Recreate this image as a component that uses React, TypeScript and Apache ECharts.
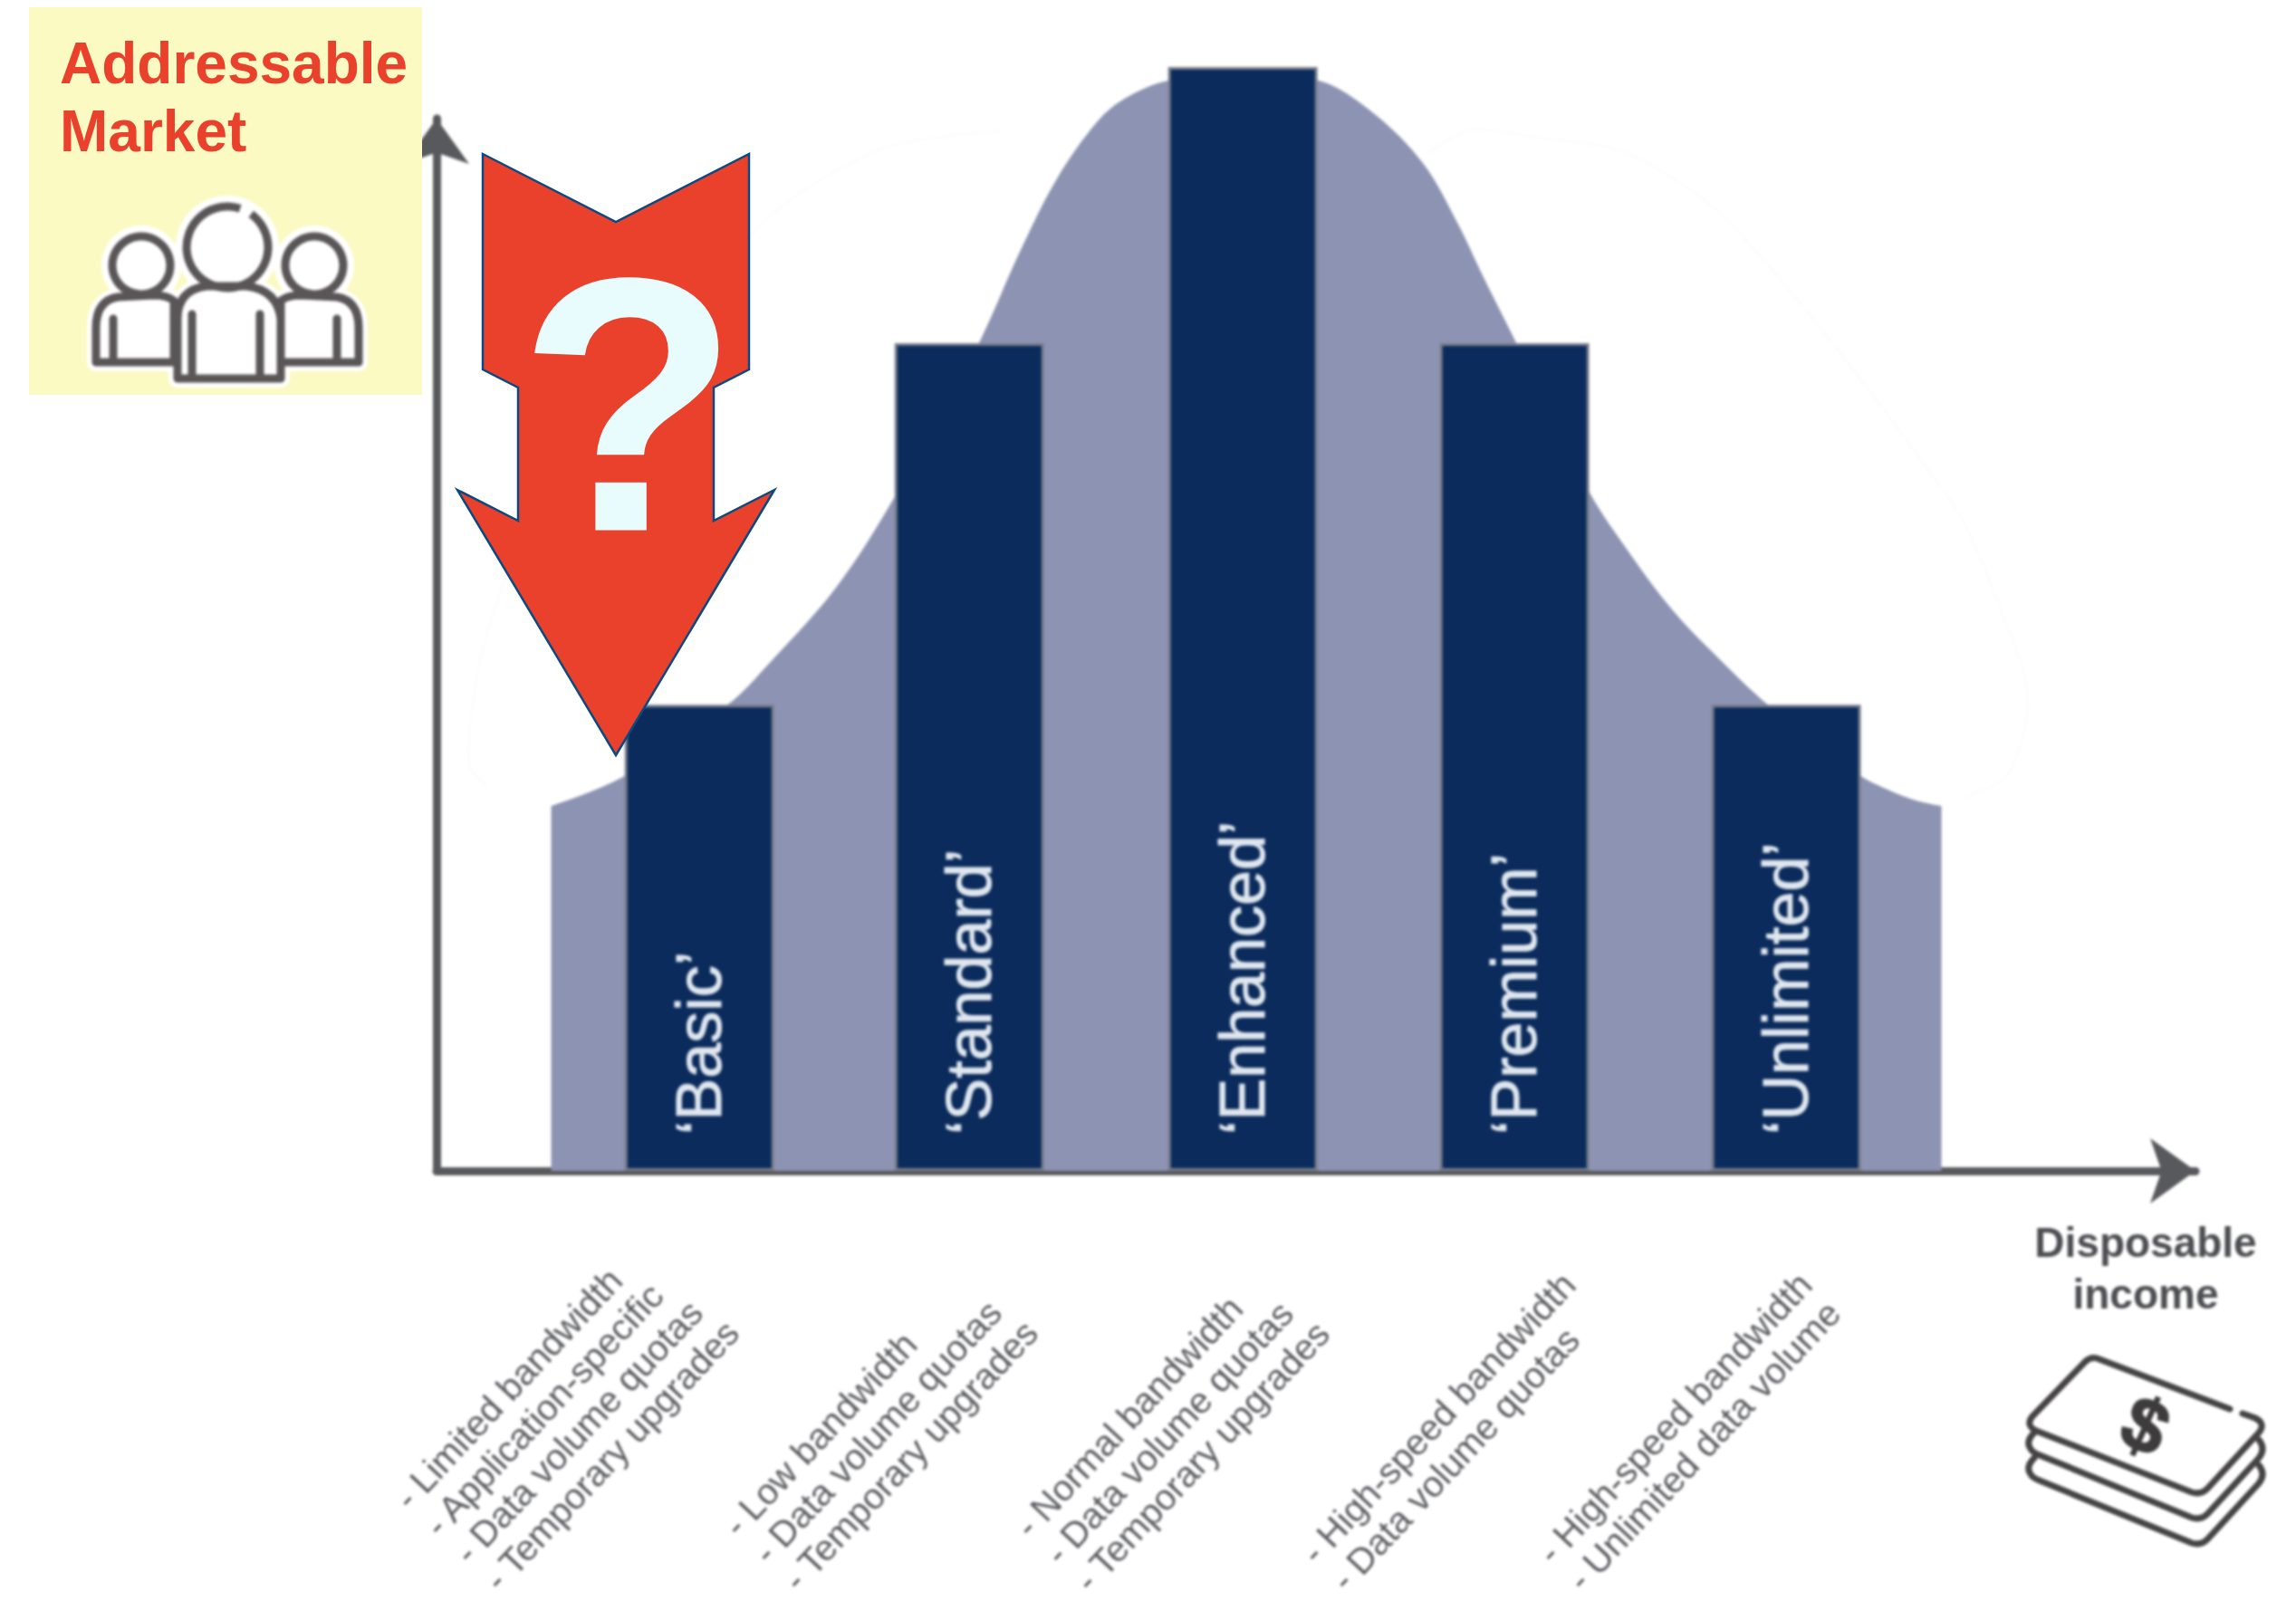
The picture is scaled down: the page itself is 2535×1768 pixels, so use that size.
import React, { useEffect, useRef } from "react";
import * as echarts from "echarts";

const FONT = '"Liberation Sans", Arial, sans-serif';

// ---- data (axis units: share of the market vs. income) ----
const tiers = ["‘Basic’", "‘Standard’", "‘Enhanced’", "‘Premium’", "‘Unlimited’"];
const tierIncome = [14.9, 30.2, 45.7, 61.1, 76.5];
const tierMarket = [44.2, 78.5, 104.7, 78.5, 44.2];

const bellIncome = [6.5, 10.6, 16.5, 19.0, 22.5, 25.4, 28.6, 30.8, 33.1, 35.2, 37.5, 39.1, 41.5, 45.7, 49.8, 52.9, 55.9, 57.9, 59.3, 61.0, 65.2, 67.7, 70.2, 72.8, 75.4, 80.6, 82.2, 83.9, 85.3];
const bellMarket = [34.6, 37.4, 44.2, 48.4, 55.0, 62.3, 72.0, 78.7, 87.3, 94.2, 99.6, 101.8, 103.4, 104.0, 103.5, 100.6, 95.6, 89.8, 84.9, 79.2, 64.8, 58.4, 52.9, 48.4, 44.3, 37.6, 36.2, 35.1, 34.6];

const ghostRightIncome = [56.2, 58.9, 62.4, 67.5, 73.5, 85.8, 88.2, 90.2, 89.0, 86.5];
const ghostRightMarket = [96.5, 98.8, 98.0, 96.5, 89.6, 63.6, 55.2, 44.4, 37.5, 35.4];
const ghostLeftIncome = [31.9, 29.2, 24.7, 18.3, 6.0, 2.7, 1.8, 3.0];
const ghostLeftMarket = [98.6, 98.2, 96.6, 89.6, 63.6, 50.0, 38.8, 36.3];

const basicFeatures = ["- Limited bandwidth", "- Application-specific", "- Data volume quotas", "- Temporary upgrades"];
const standardFeatures = ["- Low bandwidth", "- Data volume quotas", "- Temporary upgrades"];
const enhancedFeatures = ["- Normal bandwidth", "- Data volume quotas", "- Temporary upgrades"];
const premiumFeatures = ["- High-speed bandwidth", "- Data volume quotas"];
const unlimitedFeatures = ["- High-speed bandwidth", "- Unlimited data volume"];

const titleLines = ["Addressable", "Market"];
const incomeLines = ["Disposable", "income"];

// ---- icons ----
echarts.graphic.registerShape(
  "peopleFill",
  echarts.graphic.extendPath(
    "M196 418 V352 Q196 320 228 316 L272 316 Q306 320 310 352 V418 Z M192 400 H106 V362 Q106 332 130 328 L170 326 Q184 326 192 332 Z M310 400 H396 V362 Q396 332 372 328 L332 326 Q318 326 310 332 Z",
    {}
  )
);
echarts.graphic.registerShape(
  "peopleArms",
  echarts.graphic.extendPath("M212 347 V414 M287 347 V414 M125 352 V398 M372 352 V398", {})
);
echarts.graphic.registerShape(
  "moneyTop",
  echarts.graphic.extendPath(
    "M2462 1556 L2318 1501 Q2309 1497 2302 1504 L2244 1564 Q2236 1574 2248 1580 L2420 1648 Q2430 1651 2437 1644 L2494 1582 Q2502 1572 2490 1566 L2476 1561",
    {}
  )
);
echarts.graphic.registerShape(
  "moneyLower",
  echarts.graphic.extendPath(
    "M2246 1582 Q2236 1592 2242 1600 Q2244 1604 2252 1607 L2420 1676 Q2430 1679 2437 1672 L2494 1610 Q2502 1600 2494 1590 M2246 1610 Q2236 1620 2242 1628 Q2244 1632 2252 1635 L2420 1704 Q2430 1707 2437 1700 L2494 1638 Q2502 1628 2494 1618",
    {}
  )
);
echarts.graphic.registerShape(
  "redArrow",
  echarts.graphic.extendPath(
    "M533 170 L680 245 L827 170 L827 408 L788 428 L788 575 L855 541 L680 834 L505 541 L572 575 L572 428 L533 408 Z",
    {}
  )
);

const featureGroups = [
  { lines: basicFeatures, x: 443, y: 1660 },
  { lines: standardFeatures, x: 806, y: 1690 },
  { lines: enhancedFeatures, x: 1128, y: 1691 },
  { lines: premiumFeatures, x: 1444, y: 1720 },
  { lines: unlimitedFeatures, x: 1705, y: 1720 },
];

const zip = (a: number[], b: number[]) => a.map((v, i) => [v, b[i]]);

const featureTexts = featureGroups.flatMap((g) =>
  g.lines.map((line, i) => ({
    type: "text",
    x: g.x + 33 * i,
    y: g.y + 30 * i,
    rotation: (47 * Math.PI) / 180,
    silent: true,
    style: {
      text: line,
      font: `40px ${FONT}`,
      fill: "#5c5d61",
      textAlign: "left",
      textVerticalAlign: "middle",
    },
  }))
);

const axisLine = {
  show: true,
  symbol: ["none", "arrow"],
  symbolSize: [54, 50],
  lineStyle: { color: "#58595c", width: 9 },
};

const mainOption: any = {
  animation: false,
  backgroundColor: "#ffffff",
  grid: { left: 482, top: 131, right: 111, bottom: 475 },
  xAxis: {
    type: "value",
    min: 0,
    max: 99.7,
    axisLine,
    axisTick: { show: false },
    axisLabel: { show: false },
    splitLine: { show: false },
  },
  yAxis: {
    type: "value",
    min: 0,
    max: 99.8,
    axisLine,
    axisTick: { show: false },
    axisLabel: { show: false },
    splitLine: { show: false },
  },
  series: [
    {
      type: "line",
      name: "ghostLeft",
      data: zip(ghostLeftIncome, ghostLeftMarket),
      showSymbol: false,
      clip: false,
      smooth: 0.3,
      lineStyle: { color: "#f7f7f7", width: 2, type: "dotted" },
      z: 1,
    },
    {
      type: "line",
      name: "ghostRight",
      data: zip(ghostRightIncome, ghostRightMarket),
      showSymbol: false,
      clip: false,
      smooth: 0.3,
      lineStyle: { color: "#f7f7f7", width: 2, type: "dotted" },
      z: 1,
    },
    {
      type: "line",
      name: "Market",
      data: zip(bellIncome, bellMarket),
      showSymbol: false,
      clip: false,
      smooth: 0.35,
      lineStyle: { width: 0 },
      areaStyle: { color: "#8d93b2", opacity: 1 },
      z: 2,
    },
    {
      type: "bar",
      name: "Tiers",
      data: zip(tierIncome, tierMarket),
      barWidth: 165,
      clip: false,
      itemStyle: { color: "#0a2b5c", borderColor: "#777d89", borderWidth: 3 },
      label: {
        show: true,
        position: "insideBottom",
        distance: 40,
        rotate: 90,
        align: "left",
        verticalAlign: "middle",
        formatter: (p: any) => tiers[p.dataIndex],
        color: "#dfe6ee",
        fontSize: 70,
        fontFamily: FONT,
        textBorderColor: "#dfe6ee",
        textBorderWidth: 1,
      },
      z: 3,
    },
  ],
  graphic: {
    elements: [
      ...featureTexts,
      ...incomeLines.map((t, i) => ({
        type: "text",
        x: 2369,
        y: 1372 + 57 * i,
        silent: true,
        style: {
          text: t,
          font: `bold 46px ${FONT}`,
          fill: "#4d4e52",
          textAlign: "center",
          textVerticalAlign: "middle",
        },
      })),
      { type: "moneyTop", silent: true, style: { fill: "none", stroke: "#454344", lineWidth: 7, lineCap: "round" } },
      { type: "moneyLower", silent: true, style: { fill: "none", stroke: "#454344", lineWidth: 7, lineCap: "round" } },
      {
        type: "text",
        x: 2369,
        y: 1574,
        rotation: -0.42,
        silent: true,
        style: { text: "$", font: `bold 84px ${FONT}`, fill: "#3d3b3c", stroke: "#3d3b3c", lineWidth: 2, textAlign: "center", textVerticalAlign: "middle" },
      },
    ],
  },
};

const overlayOption: any = {
  animation: false,
  graphic: {
    elements: [
      { type: "rect", shape: { x: 32, y: 8, width: 434, height: 428 }, silent: true, style: { fill: "#fbfac2" } },
      ...titleLines.map((t, i) => ({
        type: "text",
        x: 66,
        y: 70 + 75 * i,
        silent: true,
        style: {
          text: t,
          font: `bold 64px ${FONT}`,
          fill: "#e9412b",
          textAlign: "left",
          textVerticalAlign: "middle",
        },
      })),
      { type: "redArrow", silent: true, style: { fill: "#e9412b", stroke: "#0b4a80", lineWidth: 2.5, lineJoin: "miter" } },
      {
        type: "text",
        x: 694,
        y: 447,
        silent: true,
        style: { text: "?", font: `bold 400px ${FONT}`, fill: "#e8fcfd", textAlign: "center", textVerticalAlign: "middle" },
      },
    ],
  },
};

const heads = [
  { cx: 156, cy: 293, r: 32 },
  { cx: 347, cy: 293, r: 32 },
  { cx: 251, cy: 273, r: 45 },
];
const iconStroke = { fill: "none", stroke: "#5a5657", lineWidth: 9 };

const iconOption: any = {
  animation: false,
  graphic: {
    elements: [
      ...heads.map((h) => ({ type: "circle", silent: true, shape: h, style: { fill: "#ffffff", stroke: "#ffffff", lineWidth: 24 } })),
      { type: "peopleFill", silent: true, style: { fill: "#ffffff", stroke: "#ffffff", lineWidth: 20, lineJoin: "round" } },
      { type: "peopleFill", silent: true, style: { ...iconStroke, lineJoin: "round" } },
      { type: "peopleArms", silent: true, style: { ...iconStroke, lineCap: "round" } },
      { type: "circle", silent: true, shape: heads[0], style: iconStroke },
      { type: "circle", silent: true, shape: heads[1], style: iconStroke },
      { type: "arc", silent: true, shape: { cx: 251, cy: 273, r: 45, startAngle: -0.95, endAngle: -1.25, clockwise: true }, style: iconStroke },
    ],
  },
};

function Layer({ option, blur }: { option: any; blur: number }) {
  const ref = useRef<HTMLDivElement>(null);
  useEffect(() => {
    const chart = echarts.init(ref.current as HTMLDivElement, undefined, { renderer: "svg" });
    chart.setOption(option);
    return () => chart.dispose();
  }, [option]);
  return (
    <div
      ref={ref}
      style={{
        position: "absolute",
        left: 0,
        top: 0,
        width: 2535,
        height: 1768,
        filter: blur ? `blur(${blur}px)` : undefined,
      }}
    />
  );
}

export default function App() {
  useEffect(() => {
    document.body.style.margin = "0";
    document.body.style.background = "#ffffff";
  }, []);
  return (
    <div style={{ position: "relative", width: 2535, height: 1768, overflow: "hidden", background: "#fff" }}>
      <Layer option={mainOption} blur={1.6} />
      <Layer option={overlayOption} blur={0} />
      <Layer option={iconOption} blur={1.4} />
    </div>
  );
}
